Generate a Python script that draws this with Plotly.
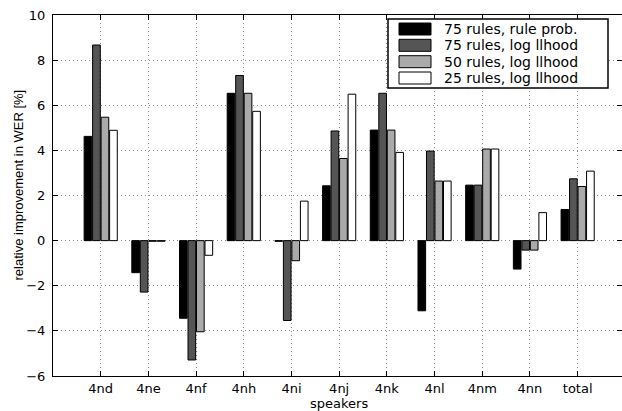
import plotly.graph_objects as go

speakers = ["4nd", "4ne", "4nf", "4nh", "4ni", "4nj", "4nk", "4nl", "4nm", "4nn", "total"]
series_names = ["75 rules, rule prob.", "75 rules, log llhood", "50 rules, log llhood", "25 rules, log llhood"]
rule75_prob = [4.62, -1.42, -3.44, 6.53, -0.03, 2.43, 4.90, -3.11, 2.46, -1.26, 1.38]
rule75_llh = [8.67, -2.28, -5.29, 7.32, -3.54, 4.86, 6.53, 3.97, 2.46, -0.42, 2.74]
rule50_llh = [5.47, -0.03, -4.04, 6.53, -0.89, 3.64, 4.90, 2.64, 4.06, -0.42, 2.40]
rule25_llh = [4.89, -0.03, -0.65, 5.73, 1.75, 6.49, 3.91, 2.64, 4.06, 1.24, 3.08]
y_ticks = [-6, -4, -2, 0, 2, 4, 6, 8, 10]
x_title = "speakers"
y_title = "relative improvement in WER [%]"

series = [rule75_prob, rule75_llh, rule50_llh, rule25_llh]
colors = ["#000000", "#555555", "#aaaaaa", "#ffffff"]

W, H = 622, 411
ML, MR, MT, MB = 53, 0, 15, 35
PW, PH = W - ML - MR, H - MT - MB

xpos = list(range(1, len(speakers) + 1))

fig = go.Figure()
for name, vals, col in zip(series_names, series, colors):
    fig.add_trace(go.Bar(
        x=xpos, y=vals, name=name,
        marker=dict(color=col, line=dict(color="#000000", width=1)),
        showlegend=False,
    ))

def px_x(p):
    return (p - ML) / PW

def px_y(p):
    return (H - MB - p) / PH

shapes = []
annotations = []
# custom legend box
shapes.append(dict(type="rect", xref="paper", yref="paper",
                   x0=px_x(388), x1=px_x(608), y0=px_y(88), y1=px_y(19),
                   line=dict(color="black", width=1.5), fillcolor="white", layer="above"))
row_centers = [29, 45.3, 61.7, 78]
for name, col, cy in zip(series_names, colors, row_centers):
    shapes.append(dict(type="rect", xref="paper", yref="paper",
                       x0=px_x(399), x1=px_x(431), y0=px_y(cy + 6), y1=px_y(cy - 6),
                       line=dict(color="black", width=1), fillcolor=col, layer="above"))
    annotations.append(dict(xref="paper", yref="paper", x=px_x(442), y=px_y(cy),
                            xanchor="left", yanchor="middle", showarrow=False,
                            text=name, font=dict(family="DejaVu Sans", size=14, color="black")))

# axis titles as annotations
annotations.append(dict(xref="paper", yref="paper", x=px_x(339), y=px_y(403.5),
                        xanchor="center", yanchor="middle", showarrow=False,
                        text=x_title, font=dict(family="DejaVu Sans", size=13, color="black")))
annotations.append(dict(xref="paper", yref="paper", x=px_x(18.5), y=px_y(185),
                        xanchor="center", yanchor="middle", showarrow=False, textangle=-90,
                        text=y_title, font=dict(family="Liberation Sans", size=13, color="black")))

fig.update_layout(
    width=W, height=H,
    margin=dict(l=ML, r=MR, t=MT, b=MB, pad=0, autoexpand=False),
    paper_bgcolor="white", plot_bgcolor="white",
    barmode="group", bargap=0.287, bargroupgap=0.1,
    font=dict(family="DejaVu Sans", size=13, color="black"),
    shapes=shapes, annotations=annotations,
    showlegend=False,
)
fig.update_xaxes(
    automargin=False,
    range=[0, 11.93], tickmode="array", tickvals=xpos, ticktext=speakers,
    showgrid=True, gridcolor="#8a8a8a", griddash="1px,3px", gridwidth=1,
    showline=True, linecolor="black", linewidth=1, mirror="ticks",
    ticks="inside", ticklen=5, tickcolor="black",
    zeroline=False,
    tickfont=dict(family="DejaVu Sans", size=13),
)
fig.update_yaxes(
    automargin=False,
    range=[-6, 10], tickmode="array", tickvals=y_ticks,
    showgrid=True, gridcolor="#8a8a8a", griddash="1px,3px", gridwidth=1,
    showline=True, linecolor="black", linewidth=1, mirror="ticks",
    ticks="inside", ticklen=5, tickcolor="black",
    zeroline=False,
    tickfont=dict(family="DejaVu Sans", size=13),
    ticklabelstandoff=4,
)

fig.write_html("out.html", config={"displayModeBar": False},
               post_script="document.body.style.margin='0';document.body.style.overflow='hidden';")
